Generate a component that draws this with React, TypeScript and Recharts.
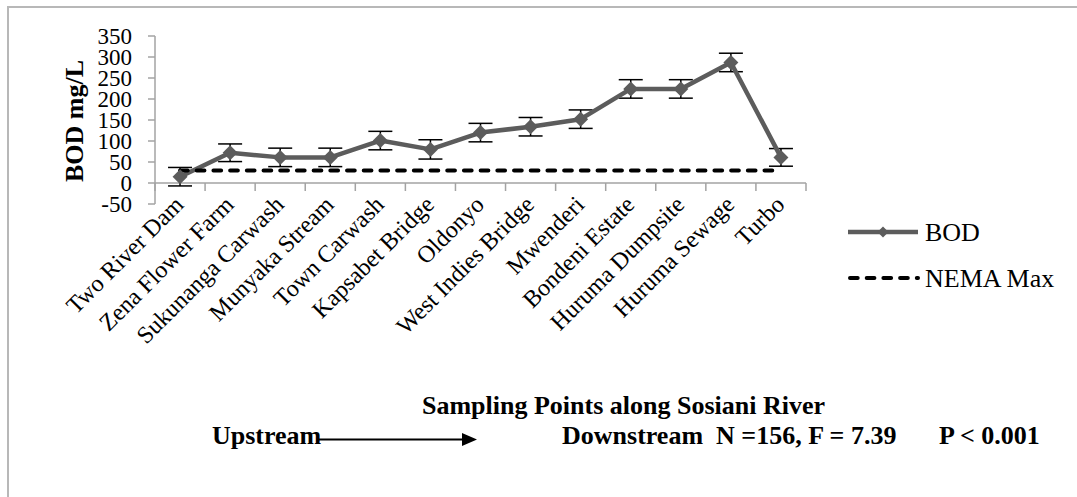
import { ComposedChart, ErrorBar, Label, Line, ReferenceLine, XAxis, YAxis } from "recharts";

const sites = [
  "Two River Dam",
  "Zena Flower Farm",
  "Sukunanga Carwash",
  "Munyaka Stream",
  "Town Carwash",
  "Kapsabet Bridge",
  "Oldonyo",
  "West Indies Bridge",
  "Mwenderi",
  "Bondeni Estate",
  "Huruma Dumpsite",
  "Huruma Sewage",
  "Turbo",
];
const bodMeans = [15, 72, 61, 61, 101, 80, 120, 134, 152, 224, 224, 287, 61];
const bodErrors = [22, 21, 22, 22, 22, 23, 22, 22, 22, 22, 22, 22, 21];
const nemaMax = 30;
const yTicks = [-50, 0, 50, 100, 150, 200, 250, 300, 350];

const data = sites.map((site, i) => ({
  site,
  bod: bodMeans[i],
  err: bodErrors[i],
  nema: nemaMax,
}));

const CHART_W = 1077;
const CHART_H = 497;
const MARGIN = { top: 36, right: 271, bottom: 143, left: 65 };
const Y_AXIS_W = 90;
const X_AXIS_H = 150;
const PLOT_W = CHART_W - MARGIN.left - MARGIN.right - Y_AXIS_W;
const PLOT_H = CHART_H - MARGIN.top - MARGIN.bottom - X_AXIS_H;
const Y_MIN = yTicks[0];
const Y_MAX = yTicks[yTicks.length - 1];
// the category axis sits on y = 0, not on the bottom of the plot
const ZERO_OFFSET = (PLOT_H * (0 - Y_MIN)) / (Y_MAX - Y_MIN);
const BAND = PLOT_W / sites.length;

const SERIF = '"Liberation Serif", "Times New Roman", serif';
const AXIS_GRAY = "#a3a3a3";
const BOD_GRAY = "#5c5c5c";

const diamondPoints = (cx: number, cy: number, half: number) =>
  `${cx - half},${cy} ${cx},${cy - half} ${cx + half},${cy} ${cx},${cy + half}`;

// Recharts hands every dot an r of its own, so the size is kept separately
const Diamond = ({ cx, cy }: { cx?: number; cy?: number }) => {
  if (cx == null || cy == null) return null;
  return <polygon points={diamondPoints(cx, cy, 7.5)} fill={BOD_GRAY} />;
};

const SiteTick = (props: any) => {
  const { x, y, payload, index } = props;
  const zeroY = y - ZERO_OFFSET;
  const left = x - BAND / 2;
  const right = x + BAND / 2;
  const tx = x + 5;
  const ty = zeroY + 23;
  return (
    <g>
      <line x1={left} x2={left} y1={zeroY} y2={zeroY + 8} stroke={AXIS_GRAY} strokeWidth={1.5} />
      {index === sites.length - 1 && (
        <line x1={right} x2={right} y1={zeroY} y2={zeroY + 8} stroke={AXIS_GRAY} strokeWidth={1.5} />
      )}
      <text
        x={tx}
        y={ty}
        transform={`rotate(-45 ${tx} ${ty})`}
        textAnchor="end"
        style={{ fontFamily: SERIF, fontSize: 24 }}
        fill="#000"
      >
        {payload.value}
      </text>
    </g>
  );
};

const YTitle = ({ viewBox }: any) => {
  const x = viewBox.x + 18;
  const y = viewBox.y + viewBox.height / 2 + 1;
  return (
    <text
      x={x}
      y={y}
      transform={`rotate(-90 ${x} ${y})`}
      textAnchor="middle"
      style={{ fontFamily: SERIF, fontWeight: "bold", fontSize: 26 }}
      fill="#000"
    >
      BOD mg/L
    </text>
  );
};

const boldText = {
  position: "absolute" as const,
  fontFamily: SERIF,
  fontWeight: "bold" as const,
  fontSize: 26,
  lineHeight: "26px",
  whiteSpace: "pre" as const,
  color: "#000",
};

const legendText = { fontFamily: SERIF, fontSize: 26 };

function LegendBox() {
  return (
    <svg width={237} height={90} style={{ position: "absolute", left: 840, top: 210 }}>
      <line x1={8} x2={78} y1={22} y2={22} stroke={BOD_GRAY} strokeWidth={4.5} />
      <polygon points={diamondPoints(43, 22, 5.5)} fill={BOD_GRAY} />
      <text x={85} y={31} fill="#000" style={legendText}>
        BOD
      </text>
      <line
        x1={10}
        x2={78}
        y1={68}
        y2={68}
        stroke="#000"
        strokeWidth={4}
        strokeDasharray="7.7 9"
        strokeLinecap="round"
      />
      <text x={85} y={77} fill="#000" style={legendText}>
        NEMA Max
      </text>
    </svg>
  );
}

export default function App() {
  return (
    <div
      style={{
        position: "absolute",
        left: 0,
        top: 0,
        width: CHART_W,
        height: CHART_H,
        background: "#fff",
        overflow: "hidden",
      }}
    >
      <div
        style={{
          position: "absolute",
          left: 7,
          top: 6,
          width: 1100,
          height: 520,
          borderTop: "2px solid #b8b8b8",
          borderLeft: "2px solid #b8b8b8",
        }}
      />
      <ComposedChart width={CHART_W} height={CHART_H} data={data} margin={MARGIN}>
        <YAxis
          type="number"
          domain={[Y_MIN, Y_MAX]}
          ticks={yTicks}
          interval={0}
          width={Y_AXIS_W}
          axisLine={{ stroke: AXIS_GRAY, strokeWidth: 1.5 }}
          tickLine={{ stroke: AXIS_GRAY, strokeWidth: 1.5 }}
          tickSize={7}
          tickMargin={16}
          tick={{ fontFamily: SERIF, fontSize: 23, fill: "#000" }}
          label={<Label content={YTitle} />}
        />
        <XAxis
          dataKey="site"
          type="category"
          scale="band"
          interval={0}
          height={X_AXIS_H}
          axisLine={false}
          tickLine={false}
          tickSize={0}
          tickMargin={0}
          tick={<SiteTick />}
        />
        <ReferenceLine y={0} stroke={AXIS_GRAY} strokeWidth={1.5} />
        <Line
          dataKey="bod"
          stroke={BOD_GRAY}
          strokeWidth={4.5}
          strokeLinejoin="round"
          dot={<Diamond />}
          activeDot={false}
          isAnimationActive={false}
        >
          <ErrorBar
            dataKey="err"
            direction="y"
            width={12}
            stroke="#000"
            strokeWidth={1.5}
            isAnimationActive={false}
          />
        </Line>
        <Line
          dataKey="nema"
          stroke="#000"
          strokeWidth={4}
          strokeDasharray="7.7 9"
          strokeLinecap="round"
          dot={false}
          activeDot={false}
          isAnimationActive={false}
        />
      </ComposedChart>
      <LegendBox />
      <div style={{ ...boldText, left: 422, top: 393 }}>Sampling Points along Sosiani River</div>
      <div style={{ ...boldText, left: 212, top: 423 }}>Upstream</div>
      <svg width={165} height={20} style={{ position: "absolute", left: 318, top: 430 }}>
        <line x1={0} x2={148} y1={9.5} y2={9.5} stroke="#000" strokeWidth={2} />
        <polygon points="144,3 159,9.5 144,16" fill="#000" />
      </svg>
      <div style={{ ...boldText, left: 562, top: 423 }}>Downstream  N =156, F = 7.39</div>
      <div style={{ ...boldText, left: 939, top: 423 }}>P &lt; 0.001</div>
    </div>
  );
}
